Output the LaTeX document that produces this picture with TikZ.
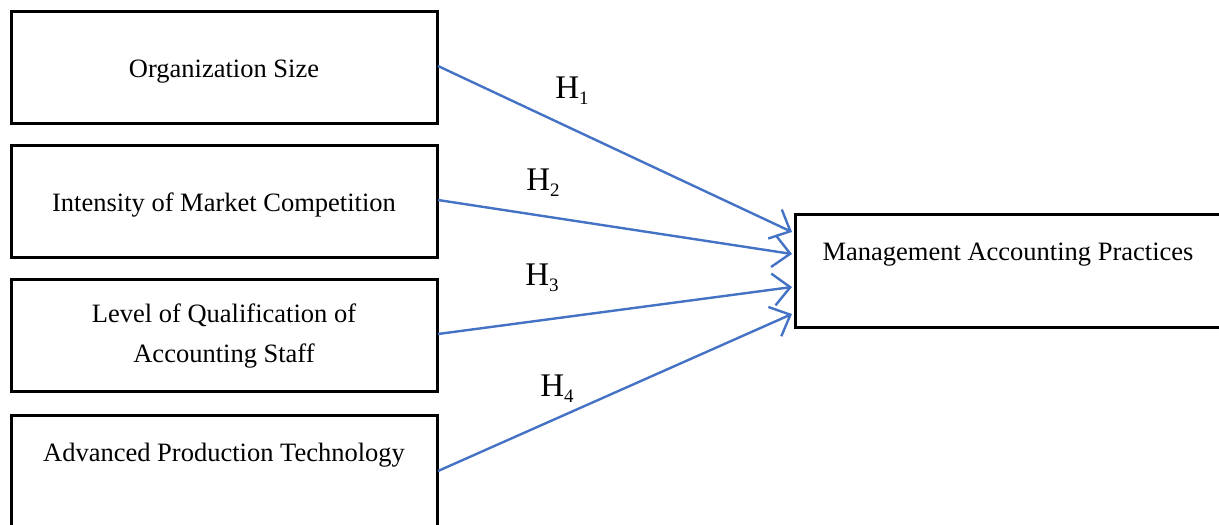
\documentclass[tikz,border=0pt]{standalone}
\usepackage{fontspec}
\setmainfont{Liberation Serif}
\usetikzlibrary{arrows.meta}
\definecolor{arrowblue}{RGB}{68,114,196}
\tikzset{
  box/.style={draw=black, line width=3pt},
  txt/.style={font=\fontsize{26.5}{40}\selectfont, align=center, inner sep=0pt},
  hyp/.style={font=\fontsize{33}{36}\selectfont, inner sep=0pt},
  link/.style={draw=arrowblue, line width=2.4pt, -{Straight Barb[length=17pt,width=32pt,line width=2.4pt]}}
}
\newcommand{\hsub}[1]{H\raisebox{-6pt}{\fontsize{19}{20}\selectfont #1}}
\begin{document}
\begin{tikzpicture}[x=1pt,y=-1pt]
\useasboundingbox (0,0) rectangle (1219,525);
\draw[box] (11,11) rectangle (437,123);
\draw[box] (11,145) rectangle (437,257);
\draw[box] (11,279) rectangle (437,391);
\draw[box] (11,415) rectangle (437,540);
\draw[box] (795,214) rectangle (1230,327);
\node[txt] (t1) at (224,72) {Organization Size};
\node[txt] (t2) at (224,205) {Intensity of Market Competition};
\node[txt] (t3) at (224,336) {Level of Qualification of\\Accounting Staff};
\node[txt] (t4) at (224,455) {Advanced Production Technology};
\node[txt] (t5) at (1008,255) {Management Accounting Practices};
\coordinate (s1) at (438,66);
\coordinate (s2) at (438,200);
\coordinate (s3) at (438,334);
\coordinate (s4) at (438,471);
\coordinate (e1) at (792,232);
\coordinate (e2) at (792,254);
\coordinate (e3) at (792,287);
\coordinate (e4) at (792,314);
\draw[link] (s1) -- (e1);
\draw[link] (s2) -- (e2);
\draw[link] (s3) -- (e3);
\draw[link] (s4) -- (e4);
\node[hyp] (h1) at (572,91) {\hsub{1}};
\node[hyp] (h2) at (543,183) {\hsub{2}};
\node[hyp] (h3) at (542,278) {\hsub{3}};
\node[hyp] (h4) at (557,389) {\hsub{4}};
\end{tikzpicture}
\end{document}
